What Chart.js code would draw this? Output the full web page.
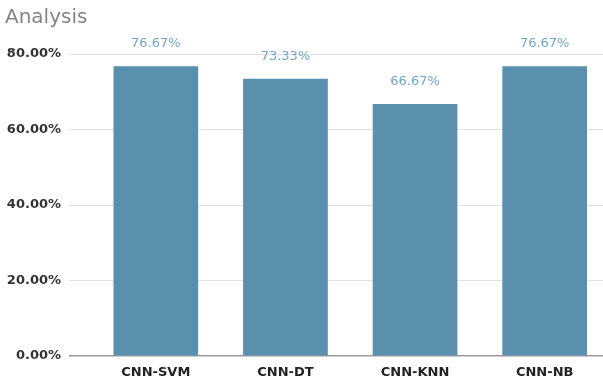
<!DOCTYPE html>
<html>
<head>
<meta charset="utf-8">
<script src="https://cdn.jsdelivr.net/npm/chart.js@4/dist/chart.umd.min.js"></script>
<style>
html,body{margin:0;padding:0;background:#fff;}
#wrap{width:603px;height:381px;}
</style>
</head>
<body>
<div id="wrap"><canvas id="c" width="603" height="381"></canvas></div>
<script>
const categories = ["CNN-SVM", "CNN-DT", "CNN-KNN", "CNN-NB"];
const accuracy = [76.67, 73.33, 66.67, 76.67];
const yTicks = [0, 20, 40, 60, 80];
const titleText = "Analysis";

const barColor = "#5a8fae";

const labelPlugin = {
  id: "valueLabels",
  afterDatasetsDraw(chart) {
    const ctx = chart.ctx;
    const meta = chart.getDatasetMeta(0);
    ctx.save();
    ctx.font = "13px 'DejaVu Sans'";
    ctx.fillStyle = "#72a6c6";
    ctx.textAlign = "center";
    ctx.textBaseline = "middle";
    meta.data.forEach((bar, i) => {
      ctx.fillText(accuracy[i].toFixed(2) + "%", bar.x, bar.y - 23);
    });
    ctx.restore();
  }
};

new Chart(document.getElementById("c"), {
  type: "bar",
  data: {
    datasets: [{
      data: accuracy.map((v, i) => ({x: i, y: v})),
      backgroundColor: barColor,
      borderWidth: 0,
      barThickness: 84
    }]
  },
  options: {
    responsive: false,
    animation: false,
    layout: {padding: {left: 5, right: 0, top: 0, bottom: 0}},
    plugins: {
      legend: {display: false},
      tooltip: {enabled: false},
      title: {
        display: true,
        text: titleText,
        align: "start",
        color: "#858585",
        font: {family: "'DejaVu Sans'", size: 20, weight: "normal"},
        padding: {top: 6, bottom: 24}
      }
    },
    scales: {
      x: {
        type: "linear",
        min: -0.67,
        max: 3.45,
        offset: false,
        grid: {display: false, drawTicks: false},
        border: {display: false},
        afterBuildTicks(scale) {
          scale.ticks = categories.map((c, i) => ({value: i}));
        },
        afterFit(scale) { scale.height = 25; },
        ticks: {
          callback: (v) => categories[v] ?? "",
          color: "#222",
          font: {family: "'DejaVu Sans'", size: 13, weight: "bold"},
          padding: 9,
          maxRotation: 0,
          autoSkip: false
        }
      },
      y: {
        min: 0,
        max: 80,
        afterBuildTicks(scale) {
          scale.ticks = yTicks.map(v => ({value: v}));
        },
        afterFit(scale) { scale.width = 64; },
        grid: {
          color: (ctx) => ctx.tick && ctx.tick.value === 0 ? "#9a9a9a" : "#e2e2e2",
          lineWidth: (ctx) => ctx.tick && ctx.tick.value === 0 ? 1.5 : 1,
          drawTicks: false
        },
        border: {display: false},
        ticks: {
          callback: (v) => v.toFixed(2) + "%",
          color: "#333",
          font: {family: "'DejaVu Sans'", size: 13, weight: "bold"},
          padding: 8
        }
      }
    }
  },
  plugins: [labelPlugin]
});
</script>
</body>
</html>
